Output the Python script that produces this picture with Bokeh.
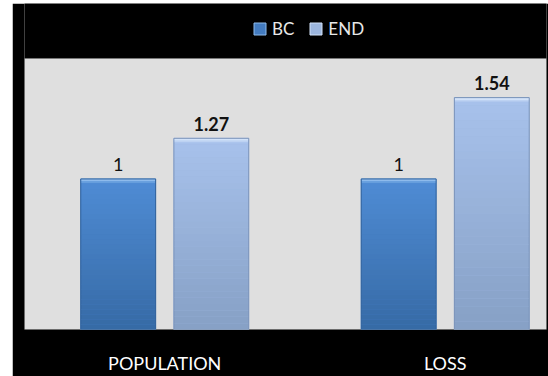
import numpy as np
from bokeh.plotting import figure
from bokeh.models import (Range1d, LinearAxis, FixedTicker, ColumnDataSource,
                          LabelSet, Legend, LegendItem, Spacer, BoxAnnotation)
from bokeh.layouts import row, column
from bokeh.core.properties import value
from bokeh.embed import file_html
from bokeh.resources import INLINE

# ---- data ----
categories = ["POPULATION", "LOSS"]
series_names = ["BC", "END"]
bc_values = [1.0, 1.0]
end_values = [1.27, 1.54]
bc_labels = ["1", "1"]
end_labels = ["1.27", "1.54"]
y_axis_max = 1.8

FONT = "Lato"

def hex_to_rgb(h):
    h = h.lstrip("#")
    return np.array([int(h[i:i + 2], 16) for i in (0, 2, 4)], dtype=float)

def mix(c1, c2, t):
    a, b = hex_to_rgb(c1), hex_to_rgb(c2)
    c = a + (b - a) * t
    return "#%02x%02x%02x" % tuple(int(round(v)) for v in c)

p = figure(width=536, height=373, output_backend="svg", toolbar_location=None,
           x_axis_type=None, y_axis_type=None,
           x_range=Range1d(0, 1.861), y_range=Range1d(0, 2.165),
           min_border_left=12, min_border_right=2, min_border_top=0,
           min_border_bottom=41)
p.border_fill_color = "#000000"
p.background_fill_color = "#000000"
p.outline_line_color = None
p.xgrid.visible = False
p.ygrid.visible = False

# light gray plotting area
p.add_layout(BoxAnnotation(bottom=0, top=y_axis_max, fill_color="#dfdfdf",
                           fill_alpha=1, line_color="#8a8a8a", line_width=1,
                           level="underlay"))

styles = {
    "BC": dict(values=bc_values, labels=bc_labels, offset=-0.166,
               top="#4f8cd5", bottom="#366aa5", edge="#30609a",
               hi="#8ebbec", mid="#437bc0", weight="normal"),
    "END": dict(values=end_values, labels=end_labels, offset=0.166,
                top="#a8c2ec", bottom="#86a0c5", edge="#7891b7",
                hi="#d2e2f9", mid="#9cb6de", weight="bold"),
}
width = 0.267
n = 30
legend_items = []
for name in series_names:
    st = styles[name]
    xs = np.arange(len(categories)) + 0.5 + st["offset"]
    vals = np.array(st["values"])
    src = ColumnDataSource(dict(x=xs, top=vals, lab=st["labels"]))
    base = p.vbar(x="x", top="top", bottom=0, width=width, source=src,
                  fill_color=st["mid"], line_color=st["hi"])
    # vertical gradient slices
    L, R, B, T, C = [], [], [], [], []
    for x, v in zip(xs, vals):
        for k in range(n):
            L.append(x - width / 2); R.append(x + width / 2)
            B.append(v * k / n); T.append(v * (k + 1) / n)
            C.append(mix(st["bottom"], st["top"], (k + 0.5) / n))
    p.quad(left=L, right=R, bottom=B, top=T, fill_color=C, line_color=None)
    # top bevel highlight
    p.vbar(x=xs, top=vals, bottom=vals - 0.016, width=width,
           fill_color=st["hi"], line_color=None)
    p.vbar(x=xs, top=vals - 0.016, bottom=vals - 0.026, width=width,
           fill_color=mix(st["hi"], st["top"], 0.5), line_color=None)
    # outline
    p.vbar(x="x", top="top", bottom=0, width=width, source=src,
           fill_color=None, line_color=st["edge"], line_width=1)
    lab = LabelSet(x="x", y="top", text="lab", source=src, y_offset=14.5,
                   text_align="center", text_baseline="middle",
                   text_font=value(FONT), text_font_size=value("18px"),
                   text_font_style=value(st["weight"]), text_color="#111111")
    p.add_layout(lab)
    legend_items.append(LegendItem(label=name, renderers=[base]))

legend = Legend(items=legend_items, orientation="horizontal",
                location=(228, 290), background_fill_alpha=0,
                border_line_alpha=0, label_text_color="#e8e8e8",
                label_text_font=FONT, label_text_font_size="17px",
                glyph_width=15, glyph_height=15, label_standoff=5,
                spacing=14, padding=0, margin=0)
p.add_layout(legend, "center")

xaxis = LinearAxis(ticker=FixedTicker(ticks=[0.5, 1.5]),
                   major_label_overrides={0.5: categories[0], 1.5: categories[1]})
xaxis.axis_line_color = None
xaxis.major_tick_line_color = None
xaxis.minor_tick_line_color = None
xaxis.major_label_text_color = "#ffffff"
xaxis.major_label_text_font = FONT
xaxis.major_label_text_font_size = "18px"
xaxis.major_label_standoff = 16
p.add_layout(xaxis, "below")

layout = row(Spacer(width=12, height=376),
             column(Spacer(width=536, height=3), p))

open("out.html", "w").write(file_html(layout, INLINE))
